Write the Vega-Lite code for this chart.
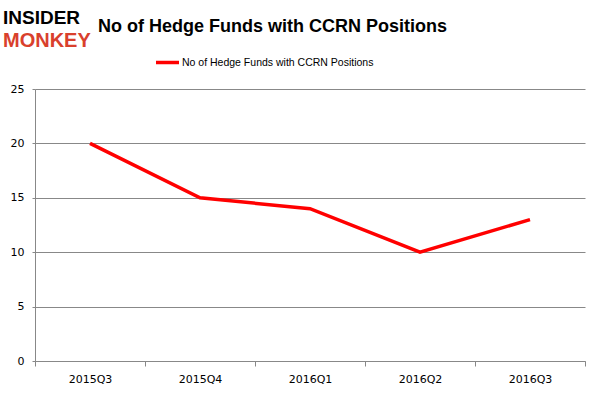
{
  "$schema": "https://vega.github.io/schema/vega-lite/v6.json",
  "width": 550,
  "height": 272,
  "autosize": {"type": "none"},
  "padding": {"left": 35, "top": 89, "right": 15, "bottom": 35},
  "background": "white",
  "config": {"view": {"stroke": null}},
  "title": {
    "text": "No of Hedge Funds with CCRN Positions",
    "anchor": "start",
    "frame": "group",
    "dx": 63,
    "dy": 27,
    "offset": 0,
    "font": "Liberation Sans",
    "fontSize": 18,
    "fontWeight": "bold",
    "color": "black"
  },
  "data": {
    "values": [
      {"quarter": "2015Q3", "funds": 20, "series": "No of Hedge Funds with CCRN Positions"},
      {"quarter": "2015Q4", "funds": 15, "series": "No of Hedge Funds with CCRN Positions"},
      {"quarter": "2016Q1", "funds": 14, "series": "No of Hedge Funds with CCRN Positions"},
      {"quarter": "2016Q2", "funds": 10, "series": "No of Hedge Funds with CCRN Positions"},
      {"quarter": "2016Q3", "funds": 13, "series": "No of Hedge Funds with CCRN Positions"}
    ]
  },
  "layer": [
    {
      "mark": {"type": "line", "strokeWidth": 3.5},
      "encoding": {
        "x": {
          "field": "quarter",
          "type": "nominal",
          "sort": null,
          "scale": {"type": "band", "paddingInner": 0, "paddingOuter": 0},
          "bandPosition": 0.5,
          "axis": {
            "title": null,
            "labelAngle": 0,
            "tickBand": "extent",
            "tickSize": 5,
            "tickColor": "#888888",
            "domainColor": "#888888",
            "labelFont": "DejaVu Sans",
            "labelFontSize": 11,
            "labelColor": "black",
            "labelPadding": 7,
            "grid": false
          }
        },
        "y": {
          "field": "funds",
          "type": "quantitative",
          "scale": {"domain": [0, 25], "nice": false},
          "axis": {
            "title": null,
            "values": [0, 5, 10, 15, 20, 25],
            "grid": true,
            "gridColor": "#888888",
            "domainColor": "#888888",
            "tickColor": "#888888",
            "tickSize": 3,
            "labelPadding": 8,
            "labelFont": "DejaVu Sans",
            "labelFontSize": 11,
            "labelColor": "black"
          }
        },
        "color": {
          "field": "series",
          "type": "nominal",
          "scale": {"range": ["#ff0000"]},
          "legend": {
            "title": null,
            "orient": "none",
            "legendX": 119,
            "legendY": -40,
            "symbolType": "stroke",
            "symbolStrokeWidth": 3.5,
            "symbolSize": 529,
            "labelFont": "Liberation Sans",
            "labelFontSize": 10.5,
            "labelColor": "black",
            "labelOffset": 1,
            "labelLimit": 400
          }
        }
      }
    },
    {
      "data": {"values": [{"word": "INSIDER"}]},
      "mark": {"type": "text", "align": "left", "baseline": "middle", "font": "Liberation Sans", "fontWeight": "bold", "fontSize": 19, "color": "black", "dx": -87, "dy": -71},
      "encoding": {
        "x": {"datum": "2015Q3"},
        "y": {"datum": 25},
        "text": {"field": "word"}
      }
    },
    {
      "data": {"values": [{"word": "MONKEY"}]},
      "mark": {"type": "text", "align": "left", "baseline": "middle", "font": "Liberation Sans", "fontWeight": "bold", "fontSize": 20, "color": "#d9402c", "dx": -87, "dy": -48.5},
      "encoding": {
        "x": {"datum": "2015Q3"},
        "y": {"datum": 25},
        "text": {"field": "word"}
      }
    }
  ]
}
